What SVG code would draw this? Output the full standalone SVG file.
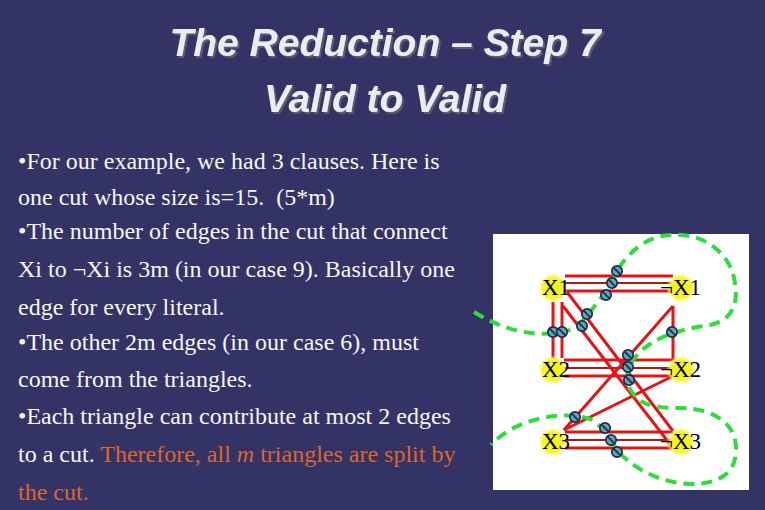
<svg xmlns="http://www.w3.org/2000/svg" width="765" height="510" viewBox="0 0 765 510">
<style>
.title{font-family:"Liberation Sans",Arial,sans-serif;font-weight:bold;font-style:italic;font-size:39px;text-anchor:middle;fill:#ebebf2;filter:url(#shadow)}
.body{font-family:"Liberation Serif","Times New Roman",serif;font-size:24px;fill:#f6f6f6;white-space:pre}
.hl{fill:#de652e}
.lbl{font-family:"Liberation Serif","Times New Roman",serif;font-size:23px;fill:#000}
.edge{stroke:#e01616;stroke-width:3;fill:none}
.mid{stroke:#a81c1c;stroke-width:2.2;fill:none}
.cut{stroke:#2fdc3a;stroke-width:4;fill:none;stroke-dasharray:11 7}
</style>
<defs>
<filter id="shadow" x="-5%" y="-20%" width="110%" height="140%">
<feDropShadow dx="2" dy="2" stdDeviation="0.6" flood-color="#5a5a70" flood-opacity="1"/>
</filter>
<radialGradient id="glow" cx="0.5" cy="0.5" r="0.5">
<stop offset="0" stop-color="#f2f210"/>
<stop offset="0.7" stop-color="#f5f530"/>
<stop offset="1" stop-color="#fbfb80" stop-opacity="0"/>
</radialGradient>
<g id="nosym">
<circle r="5.2" fill="#5fa6b6" stroke="#1c2c4c" stroke-width="1.7"/>
<line x1="-3.6" y1="-3.6" x2="3.6" y2="3.6" stroke="#1c2c4c" stroke-width="1.7"/>
</g>
</defs>
<rect width="765" height="510" fill="#333366"/>

<g id="title">
<text class="title" x="385" y="56">The Reduction – Step 7</text>
<text class="title" x="385" y="112">Valid to Valid</text>
</g>

<g id="body">
<text class="body" xml:space="preserve" x="18" y="169">•For our example, we had 3 clauses. Here is</text>
<text class="body" xml:space="preserve" x="18" y="205">one cut whose size is=15.  (5*m)</text>
<text class="body" xml:space="preserve" x="18" y="239">•The number of edges in the cut that connect</text>
<text class="body" xml:space="preserve" x="18" y="277">Xi to ¬Xi is 3m (in our case 9). Basically one</text>
<text class="body" xml:space="preserve" x="18" y="315">edge for every literal.</text>
<text class="body" xml:space="preserve" x="18" y="350">•The other 2m edges (in our case 6), must</text>
<text class="body" xml:space="preserve" x="18" y="387">come from the triangles.</text>
<text class="body" xml:space="preserve" x="18" y="424">•Each triangle can contribute at most 2 edges</text>
<text class="body" xml:space="preserve" x="18" y="462">to a cut. <tspan class="hl">Therefore, all <tspan font-style="italic">m</tspan> triangles are split by</tspan></text>
<text class="body hl" x="18" y="500">the cut.</text>
</g>

<rect id="panel" x="493" y="234" width="256" height="256" fill="#ffffff"/>

<g id="connectors">
<line class="edge" x1="565" y1="276" x2="673" y2="276"/>
<line class="mid" x1="565" y1="283" x2="673" y2="283"/>
<line class="edge" x1="565" y1="291" x2="673" y2="291"/>
<line class="edge" x1="564" y1="360" x2="673" y2="360"/>
<line class="mid" x1="564" y1="368" x2="673" y2="368"/>
<line class="edge" x1="564" y1="376" x2="673" y2="376"/>
<line class="edge" x1="565" y1="432" x2="673" y2="432"/>
<line class="mid" x1="565" y1="440" x2="673" y2="440"/>
<line class="edge" x1="565" y1="448" x2="673" y2="448"/>
<line class="edge" x1="553" y1="302" x2="553" y2="358"/>
<line class="edge" x1="562" y1="302" x2="562" y2="358"/>
<line class="edge" x1="673" y1="306" x2="673" y2="360"/>
<line class="edge" x1="673" y1="306" x2="564" y2="430"/>
<line class="edge" x1="673" y1="376" x2="564" y2="430"/>
<line class="edge" x1="567" y1="292" x2="673" y2="431"/>
<line class="edge" x1="563" y1="306" x2="673" y2="448"/>
</g>

<g id="X1"><circle cx="553" cy="288" r="15" fill="url(#glow)"/><text class="lbl" x="542" y="295">X1</text></g>
<g id="notX1"><circle cx="681" cy="288" r="15" fill="url(#glow)"/><text class="lbl" x="660" y="295">¬X1</text></g>
<g id="X2"><circle cx="553" cy="370" r="15" fill="url(#glow)"/><text class="lbl" x="542" y="377">X2</text></g>
<g id="notX2"><circle cx="681" cy="370" r="15" fill="url(#glow)"/><text class="lbl" x="660" y="377">¬X2</text></g>
<g id="X3"><circle cx="553" cy="442" r="15" fill="url(#glow)"/><text class="lbl" x="542" y="449">X3</text></g>
<g id="notX3"><circle cx="681" cy="442" r="15" fill="url(#glow)"/><text class="lbl" x="660" y="449">¬X3</text></g>

<g id="cut">
<path class="cut" d="M 474 312 C 500 328, 530 338, 563 332 C 575 330, 582 322, 590 312 C 598 302, 608 290, 615 275 C 625 255, 645 236, 670 235 C 700 232, 728 250, 734 278 C 740 305, 732 322, 705 326 C 688 328, 665 334, 650 344 C 630 357, 620 378, 632 392 C 640 405, 655 408, 680 408 C 715 408, 738 425, 736 452 C 735 478, 710 487, 680 483 C 655 480, 630 466, 617 450 C 610 438, 602 425, 590 419 C 565 410, 515 418, 491 445"/>
</g>

<g id="cut-marks">
<use href="#nosym" x="617" y="271"/>
<use href="#nosym" x="612" y="283"/>
<use href="#nosym" x="606" y="295"/>
<use href="#nosym" x="587" y="314"/>
<use href="#nosym" x="582" y="326"/>
<use href="#nosym" x="553" y="332"/>
<use href="#nosym" x="562" y="332"/>
<use href="#nosym" x="672" y="332"/>
<use href="#nosym" x="628" y="355"/>
<use href="#nosym" x="628" y="367"/>
<use href="#nosym" x="629" y="380"/>
<use href="#nosym" x="575" y="417"/>
<use href="#nosym" x="605" y="428"/>
<use href="#nosym" x="611" y="440"/>
<use href="#nosym" x="617" y="452"/>
</g>
</svg>
